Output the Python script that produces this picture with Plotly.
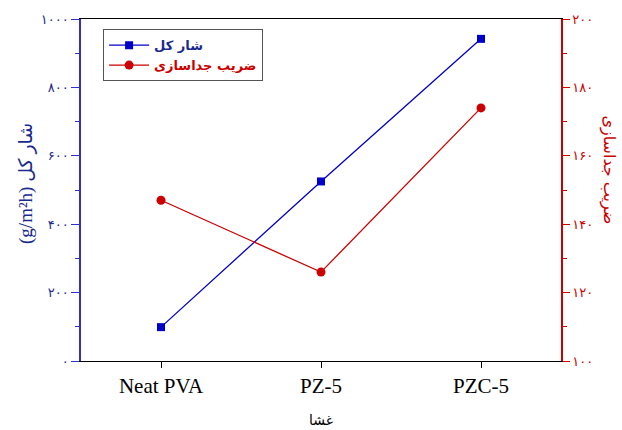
import plotly.graph_objects as go

# Membranes and measured properties
membranes = ["Neat PVA", "PZ-5", "PZC-5"]
total_flux = [99, 525, 942]          # g/m²h
separation_factor = [147, 126, 174]  # -

flux_ticks = [0, 200, 400, 600, 800, 1000]
sep_ticks = [100, 120, 140, 160, 180, 200]

PERSIAN_DIGITS = str.maketrans("0123456789", "۰۱۲۳۴۵۶۷۸۹")


def fa(n):
    return str(n).translate(PERSIAN_DIGITS)


BLUE = "#0000c8"
RED = "#cc0000"
SERIF = "Liberation Serif, DejaVu Sans, serif"

fig = go.Figure()

fig.add_trace(go.Scatter(
    x=membranes, y=total_flux, mode="lines+markers",
    name="<b><span style='color:#1a2a8c'>شار کل</span></b>",
    line=dict(color=BLUE, width=1.3),
    marker=dict(symbol="square", size=8, color=BLUE),
    yaxis="y",
))

fig.add_trace(go.Scatter(
    x=membranes, y=separation_factor, mode="lines+markers",
    name=f"<b><span style='color:{RED}'>ضریب جداسازی</span></b>",
    line=dict(color=RED, width=1.3),
    marker=dict(symbol="circle", size=9, color=RED),
    yaxis="y2",
))

fig.update_layout(
    width=622, height=430,
    margin=dict(l=81, r=61, t=14, b=69),
    paper_bgcolor="white", plot_bgcolor="white",
    font=dict(family=SERIF, size=13, color="black"),
    showlegend=True,
    legend=dict(
        x=0.046, y=0.97, xanchor="left", yanchor="top",
        bgcolor="white", bordercolor="#555555", borderwidth=1,
        font=dict(family="DejaVu Sans, sans-serif", size=13),
        tracegroupgap=2, itemwidth=40,
    ),
    xaxis=dict(
        type="category", range=[-0.5, 2.5],
        showline=True, linecolor="black", linewidth=1.2, mirror=True,
        ticks="outside", ticklen=6, tickcolor="black",
        tickfont=dict(family=SERIF, size=21, color="black"),
        showgrid=False, zeroline=False,
    ),
    yaxis=dict(
        range=[0, 1000],
        tickvals=flux_ticks, ticktext=[fa(v) for v in flux_ticks],
        showline=True, linecolor="#3030c8", linewidth=1.5,
        ticks="outside", ticklen=8, tickcolor="#3030c8",
        minor=dict(dtick=100, ticks="outside", ticklen=4, tickcolor="#3030c8"),
        tickfont=dict(family="DejaVu Sans, sans-serif", size=13, color="#1a2a8c"),
        showgrid=False, zeroline=False,
    ),
    yaxis2=dict(
        range=[100, 200], overlaying="y", side="right",
        tickvals=sep_ticks, ticktext=[fa(v) for v in sep_ticks],
        showline=True, linecolor=RED, linewidth=1.5,
        ticks="outside", ticklen=7, tickcolor=RED,
        minor=dict(dtick=10, ticks="outside", ticklen=4, tickcolor=RED),
        tickfont=dict(family="DejaVu Sans, sans-serif", size=13, color=RED),
        showgrid=False, zeroline=False,
    ),
    annotations=[
        dict(
            text="غشا",
            xref="paper", yref="paper", x=0.5, y=-0.172,
            xanchor="center", yanchor="middle", showarrow=False,
            font=dict(family="DejaVu Sans, sans-serif", size=14, color="black"),
        ),
        dict(
            text="(g/m²h) شار کل", textangle=-90,
            xref="paper", yref="paper", x=-0.115, y=0.52,
            xanchor="center", yanchor="middle", showarrow=False,
            font=dict(family=SERIF, size=19, color="#1a2a8c"),
        ),
        dict(
            text="ضریب جداسازی", textangle=90,
            xref="paper", yref="paper", x=1.1, y=0.56,
            xanchor="center", yanchor="middle", showarrow=False,
            font=dict(family="DejaVu Sans, sans-serif", size=16, color=RED),
        ),
    ],
)

fig.write_html("out.html")
